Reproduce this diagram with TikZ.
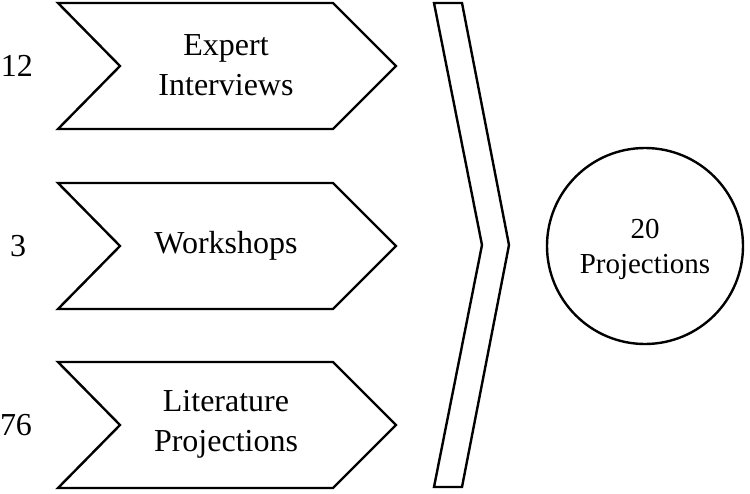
\documentclass[tikz,border=0pt]{standalone}
\usepackage{fontspec}
\setmainfont{Liberation Serif}
\begin{document}
\begin{tikzpicture}[x=1pt,y=-1pt,
  chev/.style={draw=black,line width=2.4pt,line join=miter,fill=white},
  lbl/.style={align=center,font=\fontsize{32}{40}\selectfont},
  num/.style={font=\fontsize{32}{38}\selectfont},
  circtxt/.style={align=center,font=\fontsize{29}{35}\selectfont}]
\useasboundingbox (0,0) rectangle (750,493);
% three chevrons
\foreach \cy/\nm in {66/c1,246/c2,425/c3}{
  \draw[chev] (58,\cy-63) -- (333,\cy-63) -- (396,\cy) -- (333,\cy+63)
     -- (58,\cy+63) -- (120,\cy) -- cycle;
}
\node[lbl] (t1) at (226,65) {Expert\\Interviews};
\node[lbl] (t2) at (226,246) {Workshops};
\node[lbl] (t3) at (226,424) {Literature\\Projections};
\node[num] (n1) at (17,66) {12};
\node[num] (n2) at (18,246) {3};
\node[num] (n3) at (16,425) {76};
% big chevron
\draw[chev] (434,3) -- (462,3) -- (509,245) -- (462,487) -- (434,487) -- (482,245) -- cycle;
% circle
\node[draw=black,line width=2.4pt,circle,minimum size=196pt,inner sep=0pt] (res) at (645,246) {};
\node[circtxt] (rt) at (645,249) {20\\Projections};
\end{tikzpicture}
\end{document}
